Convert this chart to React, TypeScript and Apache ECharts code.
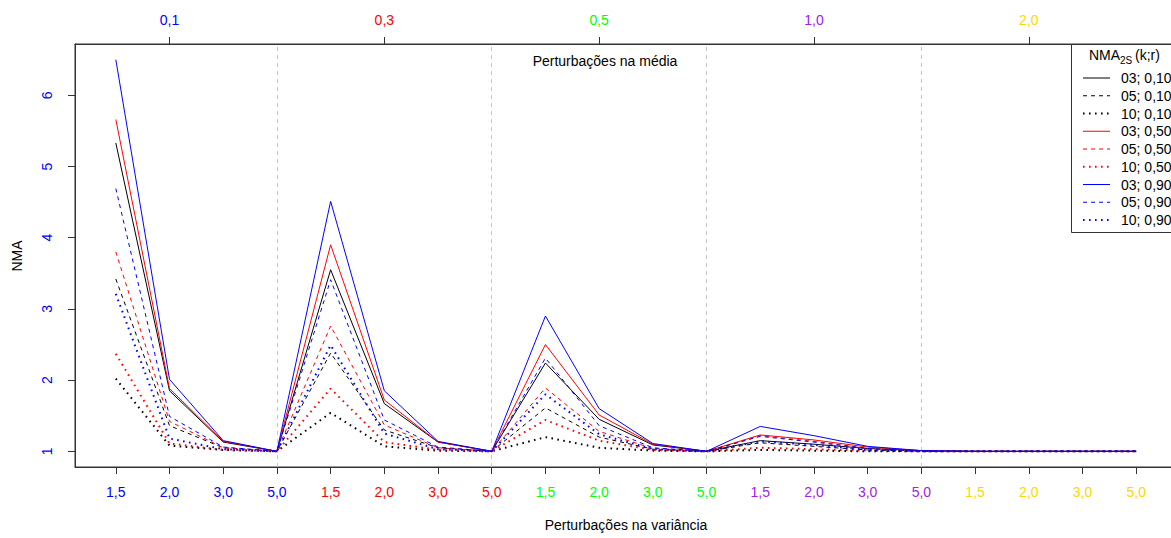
import React, { useEffect, useRef } from "react";
import * as echarts from "echarts";

const varianceLabels = [
  "1,5", "2,0", "3,0", "5,0",
  "1,5", "2,0", "3,0", "5,0",
  "1,5", "2,0", "3,0", "5,0",
  "1,5", "2,0", "3,0", "5,0",
  "1,5", "2,0", "3,0", "5,0",
];
const meanLabels = ["0,1", "0,3", "0,5", "1,0", "2,0"];
const groupColors = ["#0000FF", "#FF0000", "#00FF00", "#A020F0", "#FFD700"];
const yTicks = [1, 2, 3, 4, 5, 6];

const s03_010 = [5.33, 1.85, 1.13, 1.0, 3.55, 1.67, 1.13, 1.0, 2.24, 1.45, 1.09, 1.0, 1.15, 1.1, 1.04, 1.01, 1.0, 1.0, 1.0, 1.0];
const s05_010 = [3.42, 1.36, 1.05, 1.0, 2.38, 1.3, 1.05, 1.0, 1.61, 1.2, 1.03, 1.0, 1.12, 1.07, 1.02, 1.0, 1.0, 1.0, 1.0, 1.0];
const s10_010 = [2.02, 1.08, 1.02, 1.0, 1.54, 1.07, 1.01, 1.0, 1.2, 1.05, 1.01, 1.0, 1.02, 1.01, 1.0, 1.0, 1.0, 1.0, 1.0, 1.0];
const s03_050 = [5.66, 1.88, 1.14, 1.0, 3.9, 1.72, 1.13, 1.0, 2.5, 1.51, 1.1, 1.0, 1.23, 1.16, 1.06, 1.01, 1.0, 1.0, 1.0, 1.0];
const s05_050 = [3.8, 1.42, 1.05, 1.0, 2.76, 1.37, 1.05, 1.0, 1.89, 1.28, 1.04, 1.0, 1.22, 1.14, 1.04, 1.0, 1.0, 1.0, 1.0, 1.0];
const s10_050 = [2.37, 1.11, 1.02, 1.0, 1.88, 1.13, 1.02, 1.0, 1.44, 1.15, 1.02, 1.0, 1.05, 1.03, 1.01, 1.0, 1.0, 1.0, 1.0, 1.0];
const s03_090 = [6.5, 2.01, 1.15, 1.0, 4.51, 1.85, 1.14, 1.0, 2.9, 1.6, 1.11, 1.0, 1.35, 1.22, 1.07, 1.01, 1.0, 1.0, 1.0, 1.0];
const s05_090 = [4.69, 1.49, 1.06, 1.0, 3.41, 1.44, 1.06, 1.0, 2.31, 1.36, 1.05, 1.0, 1.21, 1.13, 1.04, 1.0, 1.0, 1.0, 1.0, 1.0];
const s10_090 = [3.21, 1.18, 1.03, 1.0, 2.49, 1.25, 1.03, 1.0, 1.8, 1.24, 1.03, 1.0, 1.14, 1.09, 1.02, 1.0, 1.0, 1.0, 1.0, 1.0];

const seriesNames = ["03; 0,10", "05; 0,10", "10; 0,10", "03; 0,50", "05; 0,50", "10; 0,50", "03; 0,90", "05; 0,90", "10; 0,90"];
const seriesValues = [s03_010, s05_010, s10_010, s03_050, s05_050, s10_050, s03_090, s05_090, s10_090];
const seriesColors = ["#000000", "#000000", "#000000", "#FF0000", "#FF0000", "#FF0000", "#0000FF", "#0000FF", "#0000FF"];
const seriesKinds = ["solid", "dashed", "dotted", "solid", "dashed", "dotted", "solid", "dashed", "dotted"];

const FONT = "Liberation Sans, Arial, sans-serif";
const FS = 14;

function dashFor(kind: string): number[] | null {
  if (kind === "dashed") return [4, 4];
  if (kind === "dotted") return [1.6, 4.4];
  return null;
}
function widthFor(kind: string): number {
  return kind === "dotted" ? 2 : 1;
}

export default function App() {
  const ref = useRef<HTMLDivElement>(null);
  useEffect(() => {
    if (!ref.current) return;
    const chart = echarts.init(ref.current, null, { renderer: "svg" });

    const xs = varianceLabels.map((_, i) => i + 1);
    const rich: any = {};
    groupColors.forEach((c, g) => {
      rich["g" + g] = { color: c, fontSize: FS, fontFamily: FONT };
    });

    const series: any[] = seriesValues.map((vals, si) => {
      const dash = dashFor(seriesKinds[si]);
      const s: any = {
        name: seriesNames[si],
        type: "line",
        xAxisIndex: 0,
        yAxisIndex: 0,
        symbol: "none",
        showSymbol: false,
        silent: true,
        data: vals.map((v, i) => [xs[i], v]),
        lineStyle: {
          color: seriesColors[si],
          width: widthFor(seriesKinds[si]),
          type: dash ? dash : "solid",
          cap: "butt",
        },
        z: 3,
      };
      if (si === 0) {
        s.markLine = {
          silent: true,
          symbol: "none",
          label: { show: false },
          lineStyle: { color: "#c8c8c8", type: [4, 4], width: 1 },
          data: [{ xAxis: 4 }, { xAxis: 8 }, { xAxis: 12 }, { xAxis: 16 }],
          z: 1,
        };
      }
      return s;
    });

    const legendTop = 78;
    const legendStep = 17.75;
    const legendEls: any[] = [
      {
        type: "rect",
        shape: { x: 1071.5, y: 44.5, width: 130, height: 188 },
        style: { fill: "#ffffff", stroke: "#333333", lineWidth: 1 },
        z: 10,
      },
      {
        type: "text",
        x: 1089,
        y: 55,
        style: { text: "NMA", fontSize: FS, fontFamily: FONT, fill: "#000", textVerticalAlign: "middle" },
        z: 11,
      },
      {
        type: "text",
        x: 1120,
        y: 60,
        style: { text: "2S", fontSize: 10, fontFamily: FONT, fill: "#000", textVerticalAlign: "middle" },
        z: 11,
      },
      {
        type: "text",
        x: 1135,
        y: 55,
        style: { text: "(k;r)", fontSize: FS, fontFamily: FONT, fill: "#000", textVerticalAlign: "middle" },
        z: 11,
      },
    ];
    seriesNames.forEach((n, i) => {
      const y = legendTop + i * legendStep;
      const dash = dashFor(seriesKinds[i]);
      legendEls.push({
        type: "line",
        shape: { x1: 1083, y1: y, x2: 1110, y2: y },
        style: {
          stroke: seriesColors[i],
          lineWidth: widthFor(seriesKinds[i]),
          lineDash: dash ? dash : null,
        },
        z: 11,
      });
      legendEls.push({
        type: "text",
        x: 1121,
        y: y,
        style: { text: n, fontSize: FS, fontFamily: FONT, fill: "#000", textVerticalAlign: "middle" },
        z: 11,
      });
    });

    chart.setOption({
      animation: false,
      grid: {
        left: 75,
        top: 44,
        width: 1102,
        height: 423,
        show: true,
        borderColor: "#333333",
        borderWidth: 1,
        backgroundColor: "transparent",
        containLabel: false,
        outerBoundsMode: "none",
      },
      xAxis: [
        {
          type: "value",
          position: "bottom",
          min: 0.24,
          max: 20.76,
          splitLine: { show: false },
          axisLine: { show: true, lineStyle: { color: "#333333" } },
          axisTick: { show: true, length: 7, customValues: xs, lineStyle: { color: "#333333" } },
          axisLabel: {
            show: true,
            customValues: xs,
            margin: 18,
            fontSize: FS,
            fontFamily: FONT,
            formatter: (v: number) => {
              const i = Math.round(v) - 1;
              const g = Math.floor(i / 4);
              return "{g" + g + "|" + varianceLabels[i] + "}";
            },
            rich,
          },
        },
        {
          type: "value",
          position: "top",
          min: 0.24,
          max: 20.76,
          splitLine: { show: false },
          axisLine: { show: true, lineStyle: { color: "#333333" } },
          axisTick: { show: true, length: 7, customValues: [2, 6, 10, 14, 18], lineStyle: { color: "#333333" } },
          axisLabel: {
            show: true,
            customValues: [2, 6, 10, 14, 18],
            margin: 17,
            fontSize: FS,
            fontFamily: FONT,
            formatter: (v: number) => {
              const g = Math.round((v - 2) / 4);
              return "{g" + g + "|" + meanLabels[g] + "}";
            },
            rich,
          },
        },
      ],
      yAxis: {
        type: "value",
        min: 0.78,
        max: 6.72,
        splitLine: { show: false },
        axisLine: { show: true, lineStyle: { color: "#333333" } },
        axisTick: { show: true, length: 7, customValues: yTicks, lineStyle: { color: "#333333" } },
        axisLabel: {
          show: true,
          customValues: yTicks,
          rotate: 90,
          margin: 21,
          fontSize: FS,
          fontFamily: FONT,
          color: "#0000FF",
          formatter: (v: number) => String(Math.round(v)),
        },
      },
      series,
      graphic: [
        {
          type: "text",
          x: 17,
          y: 256,
          rotation: Math.PI / 2,
          style: { text: "NMA", fontSize: FS, fontFamily: FONT, fill: "#000", textAlign: "center", textVerticalAlign: "middle" },
        },
        {
          type: "text",
          x: 626,
          y: 525,
          style: { text: "Perturbações na variância", fontSize: FS, fontFamily: FONT, fill: "#000", textAlign: "center", textVerticalAlign: "middle" },
        },
        {
          type: "text",
          x: 605,
          y: 61,
          style: { text: "Perturbações na média", fontSize: FS, fontFamily: FONT, fill: "#000", textAlign: "center", textVerticalAlign: "middle" },
        },
        ...legendEls,
      ],
    });
    return () => chart.dispose();
  }, []);

  return (
    <div style={{ position: "absolute", left: 0, top: 0, width: 1171, height: 538, overflow: "hidden", background: "#fff" }}>
      <div ref={ref} style={{ width: 1200, height: 538 }} />
    </div>
  );
}
